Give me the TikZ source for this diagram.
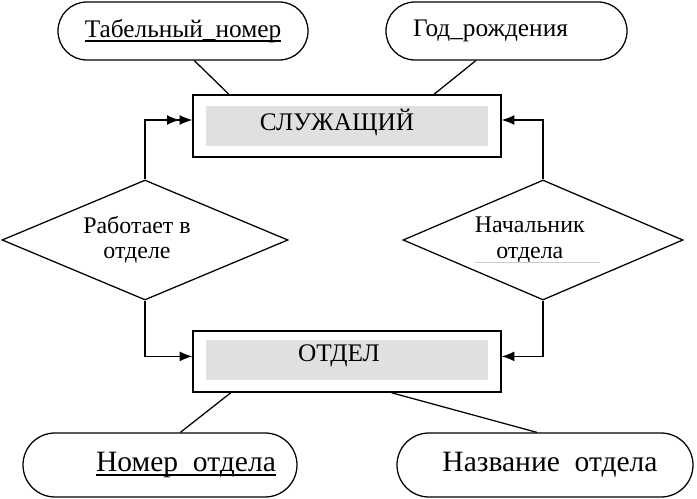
\documentclass[tikz,border=0pt]{standalone}
\usepackage{fontspec}
\setmainfont{Liberation Serif}
\usetikzlibrary{shapes.geometric, arrows.meta, calc}
\newcommand\keyattr[1]{\setbox0\hbox{#1}\rlap{\rule[-3pt]{\wd0}{0.9pt}}\box0}

\begin{document}
\begin{tikzpicture}[
    attr/.style={draw, line width=0.9pt, rounded corners=0.72cm, minimum height=1.45cm, inner sep=0pt},
    bigattr/.style={attr, minimum height=1.6cm, rounded corners=0.8cm},
    attrtext/.style={inner sep=0pt, font=\fontsize{18}{21}\selectfont},
    bigtext/.style={inner sep=0pt, font=\fontsize{21}{25}\selectfont},
    entity/.style={draw, line width=0.9pt, minimum width=7.7cm, minimum height=1.55cm, inner sep=0pt},
    inbox/.style={fill=black!12, minimum width=7.05cm, minimum height=1cm, inner sep=0pt},
    boxtext/.style={inner sep=0pt, font=\fontsize{18}{21}\selectfont},
    relation/.style={draw, diamond, line width=0.9pt, aspect=2.38, minimum height=3cm, inner sep=0pt},
    reltext/.style={inner sep=0pt, align=center, font=\fontsize{17}{18}\selectfont},
    link/.style={line width=0.9pt},
    arr/.style={line width=0.9pt, -{Latex[length=9pt,width=7pt]}}
]
    \useasboundingbox (0,0) rectangle (17.425,-12.475);
    % Атрибуты служащего
    \node[attr, minimum width=6.25cm] (tab) at (4.575,-0.775) {};
    \node[attrtext] (tabt) at (tab.center) {\keyattr{Табельный\_номер}};
    \node[attr, minimum width=6.025cm] (god) at (12.6625,-0.775) {};
    \node[attrtext] (godt) at ([xshift=-0.4cm]god.center) {Год\_рождения};
    % Сущности
    \node[entity] (emp) at (8.675,-3.15) {};
    \node[inbox] (empin) at (emp.center) {};
    \node[boxtext] (empt) at ([xshift=-0.25cm,yshift=0.1cm]empin.center) {СЛУЖАЩИЙ};
    \node[entity, minimum height=1.525cm] (dep) at (8.675,-9.04) {};
    \node[inbox] (depin) at (8.675,-9.0) {};
    \node[boxtext] (dept) at ([xshift=-0.2cm,yshift=0.1cm]depin.center) {ОТДЕЛ};
    % Связи
    \node[relation, minimum width=7.15cm] (works) at (3.625,-6.0) {};
    \node[reltext] (workst) at ([xshift=-0.2cm]works.center) {Работает в\\отделе};
    \node[relation, minimum width=7.0cm] (head) at (13.575,-6.0) {};
    \node[reltext] (headt) at ([xshift=-0.33cm]head.center) {Начальник\\отдела};
    \draw[black!20, line width=0.4pt] ($(head.center)+(-1.7,-0.55)$) -- ++(3.125,0);
    % Атрибуты отдела
    \node[bigattr, minimum width=6.85cm] (num) at (4.0,-11.625) {};
    \node[bigtext] (numt) at ([xshift=0.65cm]num.center) {\keyattr{Номер\ \ отдела}};
    \node[bigattr, minimum width=7.4cm] (name) at (13.625,-11.625) {};
    \node[bigtext] (namet) at ([xshift=0.125cm]name.center) {Название\ \ отдела};
    % Линии атрибутов
    \draw[link] (tab.-69) -- (emp.165);
    \draw[link] (god.224) -- (emp.20);
    \draw[link] (dep.195) -- (num.58);
    \draw[link] (dep.-35) -- (name.104);
    % Стрелки
    \draw[line width=0.9pt, -{Latex[length=9pt,width=7pt]Latex[length=9pt,width=7pt]}] (works.north) |- ([yshift=0.15cm]emp.west);
    \draw[arr] (works.south) |- ([yshift=0.13cm]dep.west);
    \draw[arr] (head.north) |- ([yshift=0.15cm]emp.east);
    \draw[arr] (head.south) |- ([yshift=0.13cm]dep.east);
\end{tikzpicture}
\end{document}
